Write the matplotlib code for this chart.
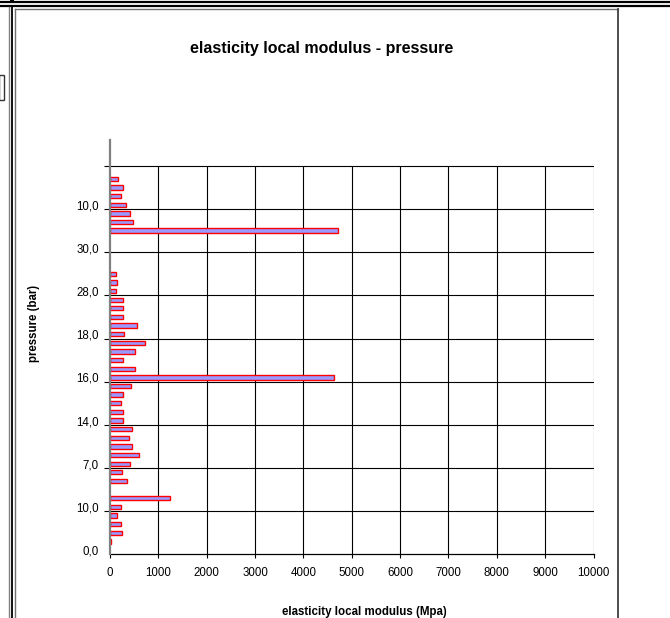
import numpy as np
import matplotlib
matplotlib.use("Agg")
import matplotlib.pyplot as plt
from matplotlib.lines import Line2D
from matplotlib.patches import Rectangle

plt.rcParams['font.family'] = ['Liberation Sans', 'DejaVu Sans']

# ---- data (category index 0 = bottom) ----
modulus = [np.nan, 15, 247, 220, 144, 220, 1235, np.nan, 357, 247,
           412, 597, 446, 384, 446, 274, 274, 220, 268, 432,
           4624, 515, 274, 508, 720, 295, 556, 274, 274, 274,
           117, 137, 117, np.nan, np.nan, np.nan, np.nan, 4706, 466, 412,
           322, 220, 274, 158, np.nan, np.nan, np.nan, np.nan]
tick_labels = ["0,0", "10,0", "7,0", "14,0", "16,0", "18,0", "28,0", "30,0", "10,0"]
label_every = 5
x_ticks = list(range(0, 10001, 1000))

W, H = 670, 618
fig = plt.figure(figsize=(W / 100, H / 100), dpi=100)

def fx(px):
    return px / W

def fy(py):
    return 1 - py / H

# ---- page / frame decorations ----
fig.add_artist(Line2D([0, 1], [fy(2.4), fy(2.4)], color='black', lw=1.6))
fig.add_artist(Line2D([0, 1], [fy(5.7), fy(5.7)], color='black', lw=1.6))
fig.add_artist(Rectangle((fx(10), fy(1.5)), fx(3.5), 1.5 / H, color='black', lw=0))
fig.add_artist(Line2D([fx(8.5), fx(8.5)], [0, fy(7)], color='#808080', lw=1.0))
fig.add_artist(Line2D([fx(12.5), fx(12.5)], [0, fy(7)], color='black', lw=1.3))
fig.add_artist(Line2D([fx(14.5), fx(14.5)], [0, fy(8.5)], color='#707070', lw=1.0))
fig.add_artist(Line2D([fx(14.5), fx(617.5)], [fy(8.5), fy(8.5)], color='#707070', lw=1.0))
fig.add_artist(Line2D([fx(617.5), fx(617.5)], [0, fy(8.5)], color='#404040', lw=1.3))
fig.add_artist(Rectangle((fx(-1), fy(100)), fx(4.5), 25 / H, fill=False,
                         edgecolor='#333333', lw=1.0))

# ---- axes ----
n = len(modulus)
left, right, top, bottom = 110, 593.5, 140, 554.3
ax = fig.add_axes([fx(left), fy(bottom), fx(right - left), (bottom - top) / H])

cats = np.arange(n)
ax.barh(cats, modulus, height=0.5, color='#9999FF', edgecolor='#FF0000',
        linewidth=1.0, zorder=3)

ax.set_xlim(0, 10000)
ax.set_ylim(-0.5, n - 0.5)

# gridlines
boundaries = np.arange(label_every, 46, label_every) - 0.5
ax.hlines(boundaries, 0, 10000, color='black', lw=0.8, zorder=2)
ax.vlines(x_ticks[1:], -0.5, boundaries[-1], color='black', lw=0.8, zorder=2)

for s in ['top', 'right']:
    ax.spines[s].set_visible(False)
ax.spines['left'].set_color('#808080')
ax.spines['left'].set_linewidth(1.6)
ax.spines['bottom'].set_color('black')
ax.spines['bottom'].set_linewidth(0.9)
ax.spines['left'].set_zorder(4)

ax.set_xticks(x_ticks)
ax.set_xticklabels([str(v) for v in x_ticks])
ax.tick_params(axis='x', direction='out', length=3, width=0.8, pad=6,
               labelsize=8.3, color='black')

ax.set_yticks(boundaries)
ax.set_yticklabels([])
ax.tick_params(axis='y', which='major', direction='out', length=4.5, width=0.8,
               color='black')
label_pos = np.arange(0, label_every * len(tick_labels), label_every)
ax.set_yticks(label_pos, minor=True)
ax.set_yticklabels(tick_labels, minor=True)
ax.tick_params(axis='y', which='minor', length=0, pad=8, labelsize=8.3)

ax.set_facecolor('white')

# ---- texts ----
fig.text(fx(322), fy(48), "elasticity local modulus - pressure", ha='center',
         va='center', fontsize=11.5, fontweight='bold')
fig.text(fx(364), fy(612), "elasticity local modulus (Mpa)", ha='center',
         va='center', fontsize=8.3, fontweight='bold')
fig.text(fx(34), fy(323), "pressure (bar)", ha='center', va='center',
         rotation=90, fontsize=8.3, fontweight='bold')

fig.savefig("out.png", dpi=100)
